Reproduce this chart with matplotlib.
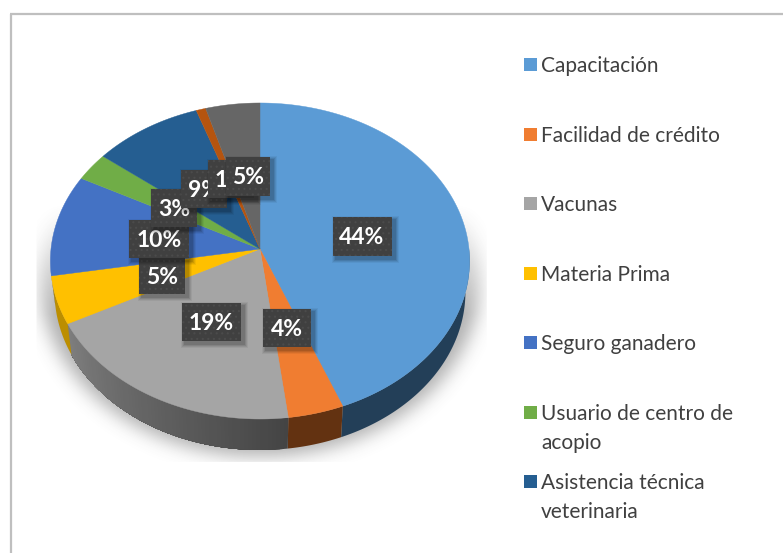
import numpy as np
import matplotlib
matplotlib.use("Agg")
import matplotlib.pyplot as plt
from matplotlib.colors import to_rgb
from matplotlib.patches import Rectangle, Polygon

plt.rcParams['font.family'] = ['Lato', 'DejaVu Sans']
plt.rcParams['hatch.linewidth'] = 0.8

categories = ["Capacitación", "Facilidad de crédito", "Vacunas", "Materia Prima",
              "Seguro ganadero", "Usuario de centro de\nacopio",
              "Asistencia técnica\nveterinaria", "Otros 1", "Otros 2"]
shares = [44.0, 4.0, 19.4, 4.9, 10.4, 2.9, 9.1, 0.8, 4.5]
value_labels = ["44%", "4%", "19%", "5%", "10%", "3%", "9%", "1%", "5%"]
top_colors = ["#5B9BD5", "#F07D31", "#A5A5A5", "#FFC000", "#4472C4",
              "#70AD47", "#255E91", "#B5540F", "#666666"]
wall_colors = [("#233F58", "#233F58"), ("#633211", "#633211"), ("#444444", "#7E7E7E"),
               ("#BC8E00", "#BC8E00"), ("#2A4677", "#2A4677"), ("#44692B", "#44692B"),
               ("#163958", "#163958"), ("#632E09", "#632E09"), ("#3E3E3E", "#3E3E3E")]

# placement of the drawing on the canvas (pixels)
CX, CY, RX, RY, K, DEPTH, SHRINK = 260.0, 249.0, 209.0, 157.1, 0.0759, 31.0, 0.98
label_centers = [(362, 236), (287, 328), (211, 322), (162, 276), (159, 239),
                 (174, 208), (204, 189), (231, 179), (248, 176)]
box_sizes = [(59, 39), (48, 38), (59, 38), (46, 36), (60, 38),
             (46, 38), (46, 38), (46, 38), (44, 39)]
legend_rows = [64, 134, 203, 273, 342, 412, 481]


def project(theta_deg):
    t = np.radians(theta_deg)
    x, y = np.sin(t), np.cos(t)
    den = 1 + K * y
    return CX + RX * x / den, CY - RY * y / den


fig = plt.figure(figsize=(7.83, 5.53), dpi=100, facecolor="white")
ax = fig.add_axes([0, 0, 1, 1])
ax.axis("off")

# soft shadow below the pie
yy, xx = np.mgrid[0:553, 0:783]
mask = (((xx - 260) / 220.0) ** 2 + ((yy - 280) / 177.0) ** 2 <= 1).astype(float)
kernel = np.exp(-0.5 * (np.arange(-30, 31) / 9.0) ** 2)
kernel /= kernel.sum()
blur = np.apply_along_axis(lambda r: np.convolve(r, kernel, mode="same"), 0, mask)
blur = np.apply_along_axis(lambda r: np.convolve(r, kernel, mode="same"), 1, blur)
fade = np.clip((yy - 205) / 110.0, 0, 1)
alpha = 0.45 * blur * fade
alpha[(xx < 37) | (xx > 486) | (yy > 462)] = 0
rgba = np.zeros((553, 783, 4))
rgba[..., :3] = 0.3
rgba[..., 3] = alpha
ax.imshow(rgba, extent=(-0.5, 782.5, 552.5, -0.5), aspect="auto", zorder=2,
          interpolation="bilinear")
ax.set_xlim(0, 783)
ax.set_ylim(553, 0)

# frame
ax.plot([11, 11], [553, 14], color="#BFBFBF", lw=1.6, zorder=1, solid_capstyle="butt")
ax.plot([10, 783], [14, 14], color="#BFBFBF", lw=1.6, zorder=1, solid_capstyle="butt")

edges = np.concatenate([[0], np.cumsum(shares)]) / np.sum(shares) * 360.0

# side wall: each strip reaches to the slice end and is overpainted by the next
for i in range(len(shares)):
    a, b = max(edges[i], 90.0), min(edges[i + 1], 262.0)
    if b <= a:
        continue
    c0, c1 = np.array(to_rgb(wall_colors[i][0])), np.array(to_rgb(wall_colors[i][1]))
    n = max(int(b - a), 1) if wall_colors[i][0] != wall_colors[i][1] else 1
    ts = np.linspace(a, b, n + 1)
    for j in range(n):
        sub = np.linspace(ts[j], b, max(int((b - ts[j]) * 2), 2))
        px, py = project(sub)
        bx = CX + (px - CX) * SHRINK
        poly = np.vstack([np.c_[px, py], np.c_[bx[::-1], py[::-1] + DEPTH]])
        col = c0 + (c1 - c0) * (j + 0.5) / n
        ax.add_patch(Polygon(poly, closed=True, fc=col, ec="none", zorder=3))

# top surface
for i in range(len(shares)):
    sub = np.linspace(edges[i], edges[i + 1], max(int(shares[i] * 6), 4))
    px, py = project(sub)
    poly = np.vstack([[CX, CY], np.c_[px, py]])
    ax.add_patch(Polygon(poly, closed=True, fc=top_colors[i], ec=top_colors[i],
                         lw=0.3, zorder=4))

# value labels, later ones on top of earlier ones
for i, (lab, (cx, cy), (w, h)) in enumerate(zip(value_labels, label_centers, box_sizes)):
    z = 10 + i
    x0, y0 = cx - w / 2, cy - h / 2
    for grow, al in ((4, 0.05), (3, 0.07), (2, 0.09), (1, 0.11)):
        ax.add_patch(Rectangle((x0 + 3 - grow, y0 + 3 - grow), w + 2 * grow, h + 2 * grow,
                               fc="black", ec="none", alpha=al, zorder=z))
    ax.add_patch(Rectangle((x0, y0), w, h, fc="#404040", ec="#4B4B4B", lw=0,
                           hatch="...", zorder=z + 0.1))
    ax.text(cx, cy + 1.5, lab, color="white", fontsize=16.5, fontweight="bold",
            ha="center", va="center", zorder=z + 0.2)

# legend
for name, col, row in zip(categories[:7], top_colors[:7], legend_rows):
    ax.add_patch(Rectangle((524, row - 6), 13, 13, fc=col, ec="none", zorder=5))
    ax.text(541, row - 8, name, color="#404040", fontsize=15, ha="left", va="top",
            linespacing=1.55, zorder=5)

fig.savefig("out.png", dpi=100)
